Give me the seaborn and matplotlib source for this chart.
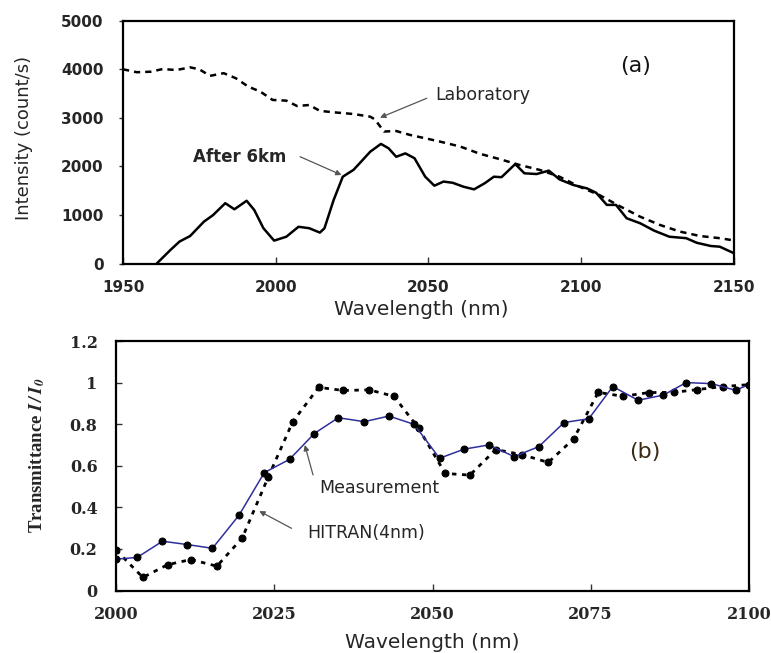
import matplotlib
matplotlib.use("Agg")
import matplotlib.pyplot as plt
import seaborn as sns
from matplotlib.ticker import FuncFormatter

# ---------------- data: panel (a) ----------------
lab_wl = [1950, 1954.5, 1959, 1963, 1967.5, 1972, 1975, 1978.5, 1983, 1987, 1991, 1995, 1999,
          2003.5, 2007, 2011, 2014.5, 2019, 2025.5, 2031, 2032.5, 2035.5, 2039.5, 2044, 2050.5,
          2054, 2060.5, 2067, 2073.5, 2080, 2086.5, 2093, 2099.5, 2106, 2113, 2119.5, 2126,
          2132.5, 2139, 2145.5, 2150]
lab_int = [4000, 3940, 3950, 4005, 3985, 4040, 4000, 3865, 3920, 3815, 3645, 3540, 3370,
           3355, 3245, 3265, 3145, 3115, 3080, 3025, 2970, 2720, 2730, 2650, 2560,
           2510, 2410, 2260, 2150, 2030, 1930, 1790, 1585, 1415, 1175, 965, 795,
           660, 570, 525, 480]

a6_wl = [1961, 1965.5, 1968.5, 1972, 1976.5, 1979.5, 1983.5, 1986.5, 1990.5, 1993, 1996, 1999.5,
         2003.5, 2007.5, 2011, 2014.5, 2016, 2019, 2022, 2025.5, 2027.5, 2031, 2034.5, 2037,
         2039.5, 2042.5, 2045.5, 2049, 2052, 2055, 2058, 2061.5, 2065, 2068.5, 2071.5, 2074,
         2078.5, 2081.5, 2085.5, 2089.5, 2093, 2097.5, 2102, 2105, 2108.5, 2111.5, 2115,
         2119.5, 2124, 2129, 2134.5, 2138, 2142.5, 2145.5, 2150]
a6_int = [0, 280, 455, 570, 865, 1000, 1245, 1120, 1295, 1105, 730, 475,
          555, 760, 730, 640, 730, 1310, 1790, 1930, 2065, 2305, 2465, 2375,
          2200, 2270, 2170, 1790, 1605, 1690, 1665, 1585, 1530, 1655, 1790, 1780,
          2050, 1860, 1845, 1915, 1735, 1620, 1550, 1460, 1210, 1210, 935,
          830, 680, 555, 525, 430, 365, 350, 220]

xticks_a = [1950, 2000, 2050, 2100, 2150]
yticks_a = [0, 1000, 2000, 3000, 4000, 5000]

# ---------------- data: panel (b) ----------------
meas_wl = [2000, 2003.3, 2007.3, 2011.2, 2015.2, 2019.4, 2023.4, 2027.4, 2031.3, 2035.1, 2039.2,
           2043.1, 2047.1, 2051.1, 2055, 2058.9, 2062.9, 2066.8, 2070.8, 2074.7, 2078.5, 2082.5,
           2086.5, 2090.1, 2094.1, 2097.9, 2100]
meas_T = [0.151, 0.159, 0.237, 0.221, 0.203, 0.362, 0.567, 0.631, 0.755, 0.831, 0.812,
          0.839, 0.799, 0.636, 0.680, 0.700, 0.644, 0.692, 0.808, 0.826, 0.981, 0.915,
          0.940, 1.000, 0.995, 0.963, 0.990]

hit_wl = [2000, 2004.2, 2008.1, 2011.8, 2015.9, 2019.9, 2024, 2027.9, 2032, 2035.9, 2040,
          2043.9, 2047.8, 2052, 2055.9, 2060, 2064.2, 2068.3, 2072.3, 2076.2, 2080.1, 2084.2,
          2088.1, 2091.8, 2095.9, 2100]
hit_T = [0.193, 0.063, 0.124, 0.149, 0.117, 0.252, 0.544, 0.812, 0.977, 0.962, 0.965,
         0.934, 0.780, 0.563, 0.555, 0.678, 0.653, 0.616, 0.729, 0.953, 0.934, 0.952,
         0.953, 0.966, 0.981, 0.990]

xticks_b = [2000, 2025, 2050, 2075, 2100]
yticks_b = [0, 0.2, 0.4, 0.6, 0.8, 1.0, 1.2]

# ---------------- style ----------------
sns.set_style("ticks")
plt.rcParams["font.family"] = ["DejaVu Sans"]
plt.rcParams["mathtext.fontset"] = "stix"

W, H = 771, 653
fig = plt.figure(figsize=(W / 100, H / 100), dpi=100)
ax1 = fig.add_axes([123 / W, 1 - 263.7 / H, 610.5 / W, 243 / H])
ax2 = fig.add_axes([116.3 / W, 1 - 590.5 / H, 632.5 / W, 249.5 / H])

# ---------------- panel (a) ----------------
sns.lineplot(x=lab_wl, y=lab_int, ax=ax1, color="black", lw=1.8,
             linestyle=(0, (2.5, 2.0)))
sns.lineplot(x=a6_wl, y=a6_int, ax=ax1, color="black", lw=1.8)

ax1.set_xlim(1950, 2150)
ax1.set_ylim(0, 5000)
ax1.set_xticks(xticks_a, [str(v) for v in xticks_a], fontweight="bold", fontsize=11)
ax1.set_yticks(yticks_a, [str(v) for v in yticks_a], fontweight="bold", fontsize=11)
ax1.tick_params(axis="x", direction="in", length=5, width=1, pad=11.5, color="#333333")
ax1.tick_params(axis="y", direction="out", length=3, width=1, pad=11.0, color="#333333")
ax1.set_xlabel("Wavelength (nm)", fontsize=14.5)
ax1.xaxis.set_label_coords(0.488, -0.149)
ax1.set_ylabel("Intensity (count/s)", fontsize=13)
ax1.yaxis.set_label_coords(-0.147, 0.518)

ax1.text(2067.8, 3370, "Laboratory", fontsize=12.5, ha="center", va="baseline")
ax1.annotate("", xy=(2034.2, 3005), xytext=(2049.5, 3404),
             arrowprops=dict(arrowstyle="-|>", color="#555555", lw=0.9,
                             mutation_scale=8, shrinkA=0, shrinkB=0))
ax1.text(1988.3, 2099, "After 6km", fontsize=12, fontweight="bold", ha="center", va="baseline")
ax1.annotate("", xy=(2021.6, 1825), xytext=(2008, 2202),
             arrowprops=dict(arrowstyle="-|>", color="#555555", lw=0.9,
                             mutation_scale=8, shrinkA=0, shrinkB=0))
ax1.text(2118, 4075, "(a)", fontsize=16, ha="center", va="center", color="#141414")

# ---------------- panel (b) ----------------
sns.lineplot(x=hit_wl, y=hit_T, ax=ax2, color="black", lw=2.0,
             linestyle=(0, (1.6, 2.0)), marker="o", markersize=5,
             markeredgecolor="black", markerfacecolor="black")
sns.lineplot(x=meas_wl, y=meas_T, ax=ax2, color="#2f2f9c", lw=1.1,
             marker="o", markersize=5, markeredgecolor="black", markerfacecolor="black")

ax2.set_xlim(2000, 2100)
ax2.set_ylim(0, 1.2)
ax2.set_xticks(xticks_b, [str(v) for v in xticks_b])
ax2.set_yticks(yticks_b)
ax2.yaxis.set_major_formatter(FuncFormatter(lambda v, p: f"{v:g}"))
for lab in ax2.get_xticklabels() + ax2.get_yticklabels():
    lab.set_fontfamily("DejaVu Serif")
    lab.set_fontweight("bold")
    lab.set_fontsize(11.5)
ax2.tick_params(axis="x", direction="in", length=5, width=1, pad=11.5, color="#333333",
                labelfontfamily="DejaVu Serif", labelsize=11.5)
ax2.tick_params(axis="y", direction="in", length=4, width=1, pad=13.5, color="#333333",
                labelfontfamily="DejaVu Serif", labelsize=11.5)
ax2.set_xlabel("Wavelength (nm)", fontsize=14.5)
ax2.xaxis.set_label_coords(0.5, -0.170)
ax2.set_ylabel(r"Transmittance $\mathbfit{I\,/\,I_0}$", fontsize=13.5,
               fontfamily="Liberation Serif", fontweight="bold")
ax2.yaxis.set_label_coords(-0.110, 0.54)

ax2.text(2041.6, 0.470, "Measurement", fontsize=12.5, ha="center", va="baseline")
ax2.annotate("", xy=(2029.8, 0.700), xytext=(2031.1, 0.556),
             arrowprops=dict(arrowstyle="-|>", color="#555555", lw=0.9,
                             mutation_scale=8, shrinkA=0, shrinkB=0))
ax2.text(2039.5, 0.251, "HITRAN(4nm)", fontsize=12.5, ha="center", va="baseline")
ax2.annotate("", xy=(2022.6, 0.382), xytext=(2027.7, 0.299),
             arrowprops=dict(arrowstyle="-|>", color="#555555", lw=0.9,
                             mutation_scale=8, shrinkA=0, shrinkB=0))
ax2.text(2083.6, 0.668, "(b)", fontsize=16, ha="center", va="center", color="#3b2a14")

for ax in (ax1, ax2):
    for s in ax.spines.values():
        s.set_visible(True)
        s.set_linewidth(1.6)
        s.set_color("black")

fig.savefig("out.png", dpi=100)
